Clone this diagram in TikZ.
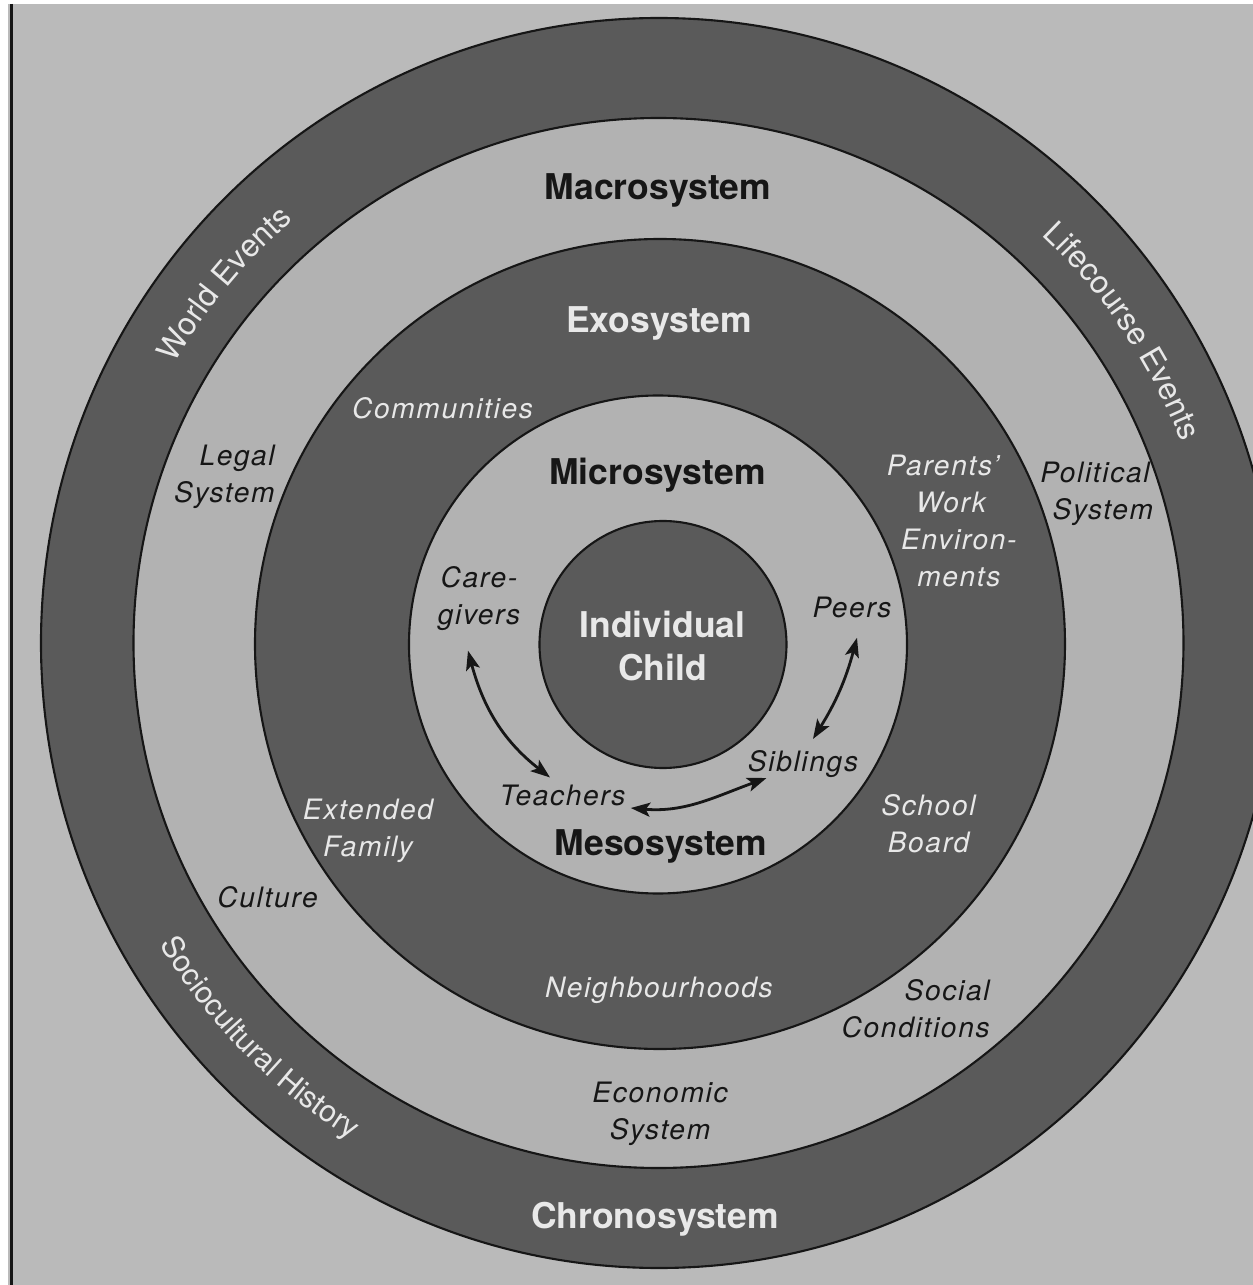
\documentclass[tikz,border=0pt]{standalone}
\usepackage{fontspec}
\setmainfont{TeX Gyre Heros}
\newfontfamily\labfamily[LetterSpace=6]{TeX Gyre Heros}
\usetikzlibrary{arrows.meta,decorations.text}
\newcommand\titlef{\fontsize{20.2}{24.4}\selectfont\bfseries}
\newcommand\labf{\labfamily\itshape\fontsize{16}{21}\selectfont}
\newcommand\ringf{\fontsize{18}{20}\selectfont}
\newcommand\ringfs{\fontsize{17.2}{20}\selectfont}
\definecolor{darkring}{RGB}{90,90,90}
\definecolor{lightring}{RGB}{178,178,178}
\definecolor{paper}{RGB}{186,186,186}
\definecolor{ink}{RGB}{22,22,22}
\definecolor{pale}{RGB}{232,232,232}
\tikzset{
  ringline/.style={draw=ink, line width=1.2pt},
  darkfill/.style={ringline, fill=darkring},
  lightfill/.style={ringline, fill=lightring},
  titleB/.style={font=\titlef, inner sep=0pt, text=ink},
  titleW/.style={font=\titlef, inner sep=0pt, text=pale},
  labB/.style={font=\labf, inner sep=0pt, text=ink},
  labW/.style={font=\labf, inner sep=0pt, text=pale},
  arr/.style={draw=ink, line width=1.6pt,
    arrows={Stealth[length=11pt,width=8pt,inset=2.5pt]-Stealth[length=11pt,width=8pt,inset=2.5pt]}},
  ringtext/.style={decorate, decoration={text along path, text align=center, text color=pale}}
}
\begin{document}
\begin{tikzpicture}[x=0.02cm, y=0.02cm]
\useasboundingbox (-659,644) rectangle (594,-641);
\clip (-659,644) rectangle (594,-641);
% page
\fill[white] (-659,644) rectangle (594,-641);
\fill[paper] (-651,640) rectangle (594,-641);
\draw[ink, line width=1.6pt] (-647.5,640) -- (-647.5,-641);
% rings
\path[darkfill] (0,1) ellipse[x radius=618, y radius=625];
\path[lightfill] (-0.5,1) circle[radius=525];
\path[darkfill] (1,0) circle[radius=405];
\path[lightfill] (-1,-0.5) circle[radius=249];
\path[darkfill] (4,-0.5) circle[radius=123.5];
% ring labels
\path[ringtext, decoration={text={|\ringf|World Events}}] (165.35:560) arc[start angle=165.35, end angle=115.35, radius=560];
\path[ringtext, decoration={text={|\ringf|Lifecourse Events}}] (64:560) arc[start angle=64, end angle=4, radius=560];
\path[ringtext, decoration={text={|\ringfs|Sociocultural History}}] (194.6:583) arc[start angle=194.6, end angle=254.6, radius=583];
% system titles
\node[titleB, anchor=base] (macro) at (-1,444) {Macrosystem};
\node[titleW, anchor=base] (exo) at (0,311) {Exosystem};
\node[titleB, anchor=base] (micro) at (-1.5,159.5) {Microsystem};
\node[titleW, align=center] (child) at (3.5,-2) {Individual\\Child};
\node[titleB, anchor=base] (meso) at (2,-211) {Mesosystem};
\node[titleW, anchor=base] (chrono) at (-4,-584) {Chronosystem};
% labels
\node[labW, anchor=base] (comm) at (-216.5,225) {Communities};
\node[labW, anchor=base] (neigh) at (0,-353) {Neighbourhoods};
\node[labB, align=center] (econ) at (1,-470) {Economic\\System};
\node[labB, align=right, anchor=east] (legal) at (-384,167) {Legal\\System};
\node[labB, align=left, anchor=west] (poli) at (381,150.5) {Political\\\hspace*{7pt}System};
\node[labW, align=center] (parents) at (292,122.7) {Parents’\hspace*{9pt}\\Work\hspace*{9pt}\\\hspace*{9pt}Environ-\\\hspace*{9pt}ments};
\node[labB, align=center] (cg) at (-180,45.5) {Care-\\givers};
\node[labB, anchor=base] (peers) at (193,27) {Peers};
\node[labB, anchor=base] (sib) at (144,-127) {Siblings};
\node[labB, anchor=base] (teach) at (-96.5,-161) {Teachers};
\node[labW, align=center] (ext) at (-291,-187) {Extended\\Family};
\node[labW, align=center] (school) at (269.5,-179.5) {School\\Board};
\node[labB, anchor=base] (culture) at (-391.5,-263) {Culture};
\node[labB, align=right, anchor=east] (social) at (331,-364.8) {Social\\Conditions};
% mesosystem links
\draw[arr] ([shift={(-11,-19.8)}]cg.south) to[out=-75, in=142] ([shift={(-12.5,6.7)}]teach.north);
\draw[arr] ([shift={(5,-3)}]teach.base east) to[out=-5, in=200] ([shift={(19,-7)}]sib.base west);
\draw[arr] ([shift={(10,10.7)}]sib.north) to[out=58, in=-105] ([shift={(5,-20)}]peers.south);
\end{tikzpicture}
\end{document}
